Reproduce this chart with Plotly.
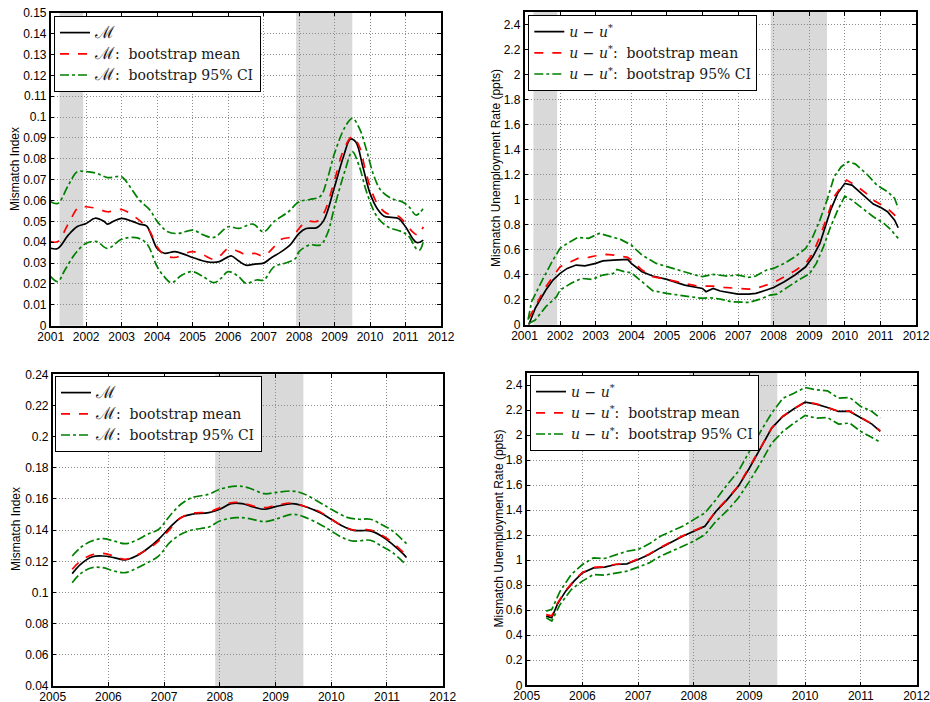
import plotly.graph_objects as go

# ---------------- DATA ----------------
recession_start = [2001.25, 2007.917]
recession_end = [2001.917, 2009.5]

# Panel 1 : Mismatch index (2001-2011)
p1_m_x = [2001.0,2001.2,2001.5,2001.75,2002.0,2002.25,2002.5,2002.6,2002.8,2003.0,2003.3,2003.5,2003.7,2003.85,2004.0,2004.2,2004.5,2004.75,2005.0,2005.3,2005.5,2005.75,2006.0,2006.1,2006.3,2006.5,2006.75,2007.0,2007.2,2007.5,2007.75,2008.0,2008.2,2008.5,2008.7,2009.0,2009.25,2009.45,2009.6,2009.8,2010.0,2010.2,2010.4,2010.6,2010.8,2011.0,2011.2,2011.3,2011.4,2011.5]
p1_m_y = [0.0371,0.037,0.0435,0.0475,0.049,0.0515,0.050,0.0487,0.0503,0.0514,0.050,0.0487,0.0478,0.0427,0.037,0.0347,0.0355,0.0343,0.0327,0.031,0.0304,0.0307,0.033,0.0334,0.031,0.029,0.0295,0.030,0.0323,0.0355,0.0387,0.0443,0.0466,0.047,0.0506,0.0666,0.081,0.0895,0.088,0.076,0.0634,0.0562,0.0525,0.0519,0.0514,0.0474,0.0418,0.040,0.040,0.041]
p1_mean_x = [2001.0,2001.2,2001.5,2001.8,2002.0,2002.3,2002.6,2003.0,2003.3,2003.6,2003.8,2004.0,2004.2,2004.5,2004.8,2005.0,2005.3,2005.6,2005.8,2006.0,2006.3,2006.5,2006.75,2007.0,2007.3,2007.5,2007.8,2008.0,2008.2,2008.5,2008.7,2009.0,2009.25,2009.5,2009.7,2009.85,2010.0,2010.2,2010.4,2010.6,2010.8,2011.0,2011.2,2011.35,2011.5]
p1_mean_y = [0.0403,0.0403,0.049,0.057,0.057,0.0562,0.0546,0.0557,0.053,0.049,0.045,0.0379,0.0339,0.0327,0.0347,0.0355,0.0339,0.0318,0.0339,0.037,0.0355,0.034,0.0347,0.0334,0.0379,0.0414,0.0427,0.0466,0.050,0.050,0.054,0.0698,0.084,0.0906,0.0858,0.076,0.0666,0.0586,0.0546,0.053,0.0525,0.049,0.045,0.0435,0.0474]
p1_hi_x = [2001.0,2001.2,2001.5,2001.75,2002.0,2002.3,2002.6,2003.0,2003.2,2003.5,2003.8,2004.0,2004.3,2004.6,2005.0,2005.3,2005.6,2006.0,2006.3,2006.7,2007.0,2007.3,2007.7,2008.0,2008.3,2008.6,2008.8,2009.0,2009.3,2009.5,2009.7,2009.9,2010.1,2010.3,2010.6,2010.9,2011.1,2011.3,2011.5]
p1_hi_y = [0.0594,0.0586,0.0674,0.0738,0.0738,0.073,0.071,0.0714,0.0674,0.0602,0.0554,0.050,0.045,0.0442,0.0458,0.0435,0.0423,0.0474,0.0466,0.0487,0.045,0.050,0.0546,0.0594,0.0605,0.062,0.0706,0.0826,0.0954,0.0994,0.0946,0.0842,0.0722,0.065,0.061,0.0594,0.057,0.053,0.0562]
p1_lo_x = [2001.0,2001.2,2001.4,2001.7,2002.0,2002.3,2002.6,2003.0,2003.4,2003.7,2004.0,2004.2,2004.4,2004.7,2005.0,2005.3,2005.6,2005.8,2006.0,2006.3,2006.5,2006.8,2007.0,2007.3,2007.6,2007.9,2008.0,2008.3,2008.6,2008.8,2009.0,2009.3,2009.5,2009.7,2009.9,2010.2,2010.5,2010.9,2011.1,2011.3,2011.4,2011.5]
p1_lo_y = [0.0235,0.0211,0.0267,0.0347,0.0395,0.0403,0.037,0.0414,0.0422,0.0395,0.0283,0.0235,0.0206,0.0243,0.0259,0.0235,0.0206,0.0227,0.0259,0.0235,0.0203,0.0219,0.0219,0.0283,0.0299,0.0323,0.0355,0.0387,0.0387,0.0442,0.057,0.0746,0.0834,0.0762,0.0642,0.0522,0.0474,0.045,0.0427,0.037,0.0363,0.0403]

# Panel 2 : mismatch unemployment (2001-2011)
p2_m_x = [2001.12,2001.3,2001.6,2001.8,2002.0,2002.2,2002.45,2002.7,2003.0,2003.2,2003.5,2003.7,2003.9,2004.0,2004.3,2004.6,2005.0,2005.5,2005.8,2006.0,2006.1,2006.3,2006.5,2006.8,2007.0,2007.3,2007.5,2007.8,2008.0,2008.3,2008.6,2008.9,2009.1,2009.3,2009.5,2009.6,2009.8,2010.0,2010.2,2010.4,2010.6,2010.8,2011.0,2011.2,2011.4,2011.5]
p2_m_y = [0.0,0.13,0.277,0.357,0.41,0.45,0.477,0.47,0.49,0.51,0.517,0.517,0.522,0.49,0.424,0.389,0.362,0.317,0.298,0.29,0.264,0.29,0.269,0.256,0.245,0.245,0.25,0.277,0.298,0.344,0.397,0.463,0.543,0.65,0.836,0.916,1.05,1.13,1.116,1.063,1.01,0.964,0.938,0.903,0.836,0.775]
p2_mean_x = [2001.12,2001.3,2001.6,2001.8,2002.0,2002.3,2002.5,2002.8,2003.0,2003.3,2003.6,2003.9,2004.0,2004.3,2004.6,2005.0,2005.5,2005.8,2006.0,2006.3,2006.6,2007.0,2007.3,2007.5,2007.8,2008.0,2008.3,2008.6,2008.9,2009.1,2009.3,2009.5,2009.7,2009.9,2010.05,2010.3,2010.6,2010.8,2011.0,2011.2,2011.4,2011.5]
p2_mean_y = [0.05,0.144,0.304,0.384,0.463,0.503,0.53,0.538,0.551,0.562,0.554,0.538,0.517,0.437,0.384,0.362,0.33,0.312,0.309,0.309,0.298,0.29,0.285,0.29,0.317,0.336,0.384,0.432,0.49,0.57,0.703,0.863,1.023,1.103,1.156,1.116,1.05,0.996,0.964,0.93,0.876,0.823]
p2_hi_x = [2001.1,2001.2,2001.5,2001.8,2002.0,2002.2,2002.5,2002.8,2003.1,2003.4,2003.7,2004.0,2004.3,2004.7,2005.0,2005.4,2005.8,2006.0,2006.3,2006.7,2007.0,2007.3,2007.5,2007.8,2008.0,2008.3,2008.6,2008.9,2009.1,2009.3,2009.5,2009.7,2009.9,2010.1,2010.3,2010.6,2010.9,2011.2,2011.4,2011.5]
p2_hi_y = [0.04,0.184,0.357,0.517,0.61,0.65,0.698,0.69,0.73,0.709,0.682,0.637,0.557,0.49,0.463,0.432,0.397,0.384,0.402,0.389,0.397,0.378,0.389,0.437,0.45,0.49,0.543,0.61,0.703,0.836,0.996,1.183,1.263,1.303,1.284,1.209,1.116,1.063,1.01,0.93]
p2_lo_x = [2001.12,2001.3,2001.6,2001.9,2002.0,2002.3,2002.6,2002.9,2003.2,2003.5,2003.6,2003.8,2004.0,2004.3,2004.6,2005.0,2005.5,2006.0,2006.2,2006.5,2006.8,2007.0,2007.3,2007.6,2007.9,2008.1,2008.4,2008.7,2009.0,2009.2,2009.4,2009.6,2009.8,2010.0,2010.2,2010.5,2010.8,2011.1,2011.3,2011.5]
p2_lo_y = [0.01,0.037,0.144,0.224,0.277,0.33,0.37,0.362,0.397,0.41,0.442,0.424,0.416,0.344,0.272,0.25,0.229,0.21,0.216,0.205,0.184,0.184,0.178,0.202,0.237,0.245,0.304,0.357,0.405,0.49,0.623,0.783,0.916,1.028,0.996,0.93,0.863,0.81,0.757,0.69]

# Panel 3 : Mismatch index (2005-2011)
p3_m_x = [2005.35,2005.5,2005.7,2005.9,2006.1,2006.3,2006.5,2006.7,2006.9,2007.1,2007.3,2007.5,2007.8,2008.0,2008.2,2008.4,2008.6,2008.8,2009.0,2009.3,2009.5,2009.8,2010.0,2010.2,2010.4,2010.7,2010.9,2011.1,2011.3,2011.35]
p3_m_y = [0.1121,0.1181,0.1228,0.1234,0.1224,0.1209,0.1234,0.1281,0.1341,0.1416,0.148,0.1502,0.1512,0.1534,0.157,0.157,0.1549,0.1534,0.1551,0.157,0.1555,0.1512,0.147,0.1427,0.1399,0.1395,0.1363,0.1309,0.1245,0.1224]
p3_mean_x = p3_m_x
p3_mean_y = [0.1149,0.1202,0.1241,0.1251,0.1234,0.1213,0.1238,0.1277,0.133,0.1405,0.148,0.1508,0.1517,0.1544,0.1576,0.1574,0.1555,0.1544,0.1559,0.1574,0.1555,0.1517,0.147,0.1427,0.1401,0.1401,0.1369,0.132,0.1256,0.1241]
p3_hi_x = [2005.35,2005.5,2005.7,2005.9,2006.1,2006.3,2006.5,2006.7,2006.9,2007.1,2007.3,2007.5,2007.8,2008.0,2008.3,2008.5,2008.8,2009.0,2009.3,2009.5,2009.8,2010.0,2010.3,2010.5,2010.7,2010.9,2011.1,2011.35]
p3_hi_y = [0.1234,0.1288,0.133,0.1345,0.133,0.1313,0.1335,0.1373,0.1405,0.1491,0.1566,0.1609,0.163,0.1662,0.1683,0.1673,0.1634,0.1641,0.1651,0.1634,0.1576,0.1534,0.148,0.147,0.147,0.1437,0.1395,0.1313]
p3_lo_x = [2005.35,2005.5,2005.7,2005.9,2006.1,2006.3,2006.5,2006.7,2006.9,2007.1,2007.3,2007.5,2007.8,2008.0,2008.3,2008.5,2008.8,2009.0,2009.3,2009.5,2009.8,2010.0,2010.2,2010.4,2010.7,2010.9,2011.1,2011.35]
p3_lo_y = [0.1063,0.1121,0.1159,0.1159,0.1138,0.1127,0.1155,0.1191,0.1234,0.132,0.1373,0.1401,0.142,0.1459,0.148,0.1476,0.1455,0.147,0.1502,0.1487,0.1437,0.1395,0.1352,0.133,0.1335,0.1298,0.1256,0.1176]

# Panel 4 : mismatch unemployment (2005-2011)
p4_m_x = [2005.35,2005.45,2005.55,2005.7,2005.85,2006.0,2006.2,2006.4,2006.6,2006.8,2007.0,2007.2,2007.4,2007.6,2007.8,2008.0,2008.2,2008.4,2008.6,2008.8,2009.0,2009.2,2009.4,2009.6,2009.8,2010.0,2010.2,2010.4,2010.6,2010.8,2011.0,2011.2,2011.35]
p4_m_y = [0.553,0.54,0.647,0.753,0.833,0.899,0.939,0.945,0.966,0.971,1.006,1.046,1.099,1.147,1.192,1.232,1.272,1.392,1.485,1.591,1.738,1.897,2.057,2.15,2.211,2.264,2.249,2.222,2.19,2.19,2.142,2.089,2.03]
p4_mean_x = p4_m_x
p4_mean_y = [0.565,0.555,0.655,0.758,0.838,0.903,0.943,0.948,0.968,0.975,1.01,1.05,1.102,1.15,1.195,1.236,1.276,1.396,1.49,1.595,1.742,1.9,2.06,2.152,2.213,2.266,2.251,2.224,2.192,2.192,2.145,2.092,2.034]
p4_hi_x = [2005.35,2005.45,2005.6,2005.8,2006.0,2006.2,2006.4,2006.6,2006.8,2007.0,2007.2,2007.4,2007.6,2007.8,2008.0,2008.2,2008.4,2008.6,2008.8,2009.0,2009.2,2009.4,2009.6,2009.8,2010.0,2010.2,2010.4,2010.6,2010.8,2011.0,2011.2,2011.35]
p4_hi_y = [0.593,0.607,0.753,0.886,0.966,1.019,1.014,1.046,1.072,1.086,1.131,1.192,1.232,1.272,1.325,1.378,1.485,1.605,1.711,1.871,2.03,2.177,2.296,2.336,2.382,2.363,2.355,2.296,2.302,2.23,2.19,2.137]
p4_lo_x = p4_hi_x
p4_lo_y = [0.54,0.514,0.647,0.766,0.833,0.886,0.881,0.899,0.913,0.945,0.979,1.032,1.072,1.112,1.152,1.205,1.312,1.397,1.498,1.631,1.778,1.937,2.03,2.097,2.158,2.137,2.142,2.089,2.097,2.03,1.983,1.945]

# tick labels
years_top = list(range(2001, 2013))
years_bottom = list(range(2005, 2013))
p1_yticks = [i / 100 for i in range(0, 16)]
p1_ylabels = ["0", "0.01", "0.02", "0.03", "0.04", "0.05", "0.06", "0.07", "0.08", "0.09", "0.1", "0.11", "0.12", "0.13", "0.14", "0.15"]
u_yticks = [i / 10 for i in range(0, 25, 2)]
u_ylabels = ["0", "0.2", "0.4", "0.6", "0.8", "1", "1.2", "1.4", "1.6", "1.8", "2", "2.2", "2.4"]
p3_yticks = [i / 100 for i in range(4, 25, 2)]
p3_ylabels = ["0.04", "0.06", "0.08", "0.1", "0.12", "0.14", "0.16", "0.18", "0.2", "0.22", "0.24"]

M = '<span style="font-size:17px">ℳ</span>'
U = "<i>u</i> − <i>u</i><sup>*</sup>"
p1_names = [M, M + ":  bootstrap mean", M + ":  bootstrap 95% CI"]
p2_names = [U, U + ":  bootstrap mean", U + ":  bootstrap 95% CI"]
ytitle_m = "Mismatch Index"
ytitle_u = "Mismatch Unemployment Rate (ppts)"

# ---------------- FIGURE ----------------
W, H = 930, 702
fig = go.Figure()

BLACK = "#000000"
RED = "#ff0000"
GREEN = "#008000"
LW = 1.7


def add_panel(idx, series, names, shape):
    ax = "" if idx == 1 else str(idx)
    leg = "legend" if idx == 1 else "legend" + str(idx)
    (mx, my), (ex, ey), (hx, hy), (lx, ly) = series
    common = dict(xaxis="x" + ax, yaxis="y" + ax, mode="lines", legend=leg, hoverinfo="skip")
    fig.add_trace(go.Scatter(x=mx, y=my, name=names[0],
                             line=dict(color=BLACK, width=LW, shape=shape), **common))
    fig.add_trace(go.Scatter(x=ex, y=ey, name=names[1],
                             line=dict(color=RED, width=LW, dash="dash", shape=shape), **common))
    fig.add_trace(go.Scatter(x=hx, y=hy, name=names[2],
                             line=dict(color=GREEN, width=LW, dash="dashdot", shape=shape), **common))
    fig.add_trace(go.Scatter(x=lx, y=ly, name=names[2], showlegend=False,
                             line=dict(color=GREEN, width=LW, dash="dashdot", shape=shape), **common))
    for s, e in zip(recession_start, recession_end):
        fig.add_shape(type="rect", xref="x" + ax, yref="y" + ax + " domain",
                      x0=s, x1=e, y0=0, y1=1, fillcolor="#d9d9d9",
                      line=dict(width=0), layer="below")


add_panel(1, [(p1_m_x, p1_m_y), (p1_mean_x, p1_mean_y), (p1_hi_x, p1_hi_y), (p1_lo_x, p1_lo_y)], p1_names, "spline")
add_panel(2, [(p2_m_x, p2_m_y), (p2_mean_x, p2_mean_y), (p2_hi_x, p2_hi_y), (p2_lo_x, p2_lo_y)], p2_names, "linear")
add_panel(3, [(p3_m_x, p3_m_y), (p3_mean_x, p3_mean_y), (p3_hi_x, p3_hi_y), (p3_lo_x, p3_lo_y)], p1_names, "spline")
add_panel(4, [(p4_m_x, p4_m_y), (p4_mean_x, p4_mean_y), (p4_hi_x, p4_hi_y), (p4_lo_x, p4_lo_y)], p2_names, "linear")

TICKFONT = dict(family="Liberation Sans, Arial, sans-serif", size=12, color="black")
AXCOMMON = dict(showline=True, linecolor="black", linewidth=1.5, mirror="ticks",
                ticks="inside", ticklen=4, tickcolor="black", tickwidth=1,
                showgrid=True, gridcolor="#8c8c8c", griddash="1px,2px", gridwidth=1,
                zeroline=False, tickfont=TICKFONT, fixedrange=True, automargin=False,
                ticklabeloverflow="allow")


def xaxis(left, right, rng, vals, anchor):
    return dict(domain=[left / W, right / W], range=rng, tickvals=vals,
                ticktext=[str(v) for v in vals], anchor=anchor,
                ticklabelstandoff=-1, **AXCOMMON)


def yaxis(top, bottom, rng, vals, labels, anchor):
    return dict(domain=[1 - bottom / H, 1 - top / H], range=rng, tickvals=vals,
                ticktext=labels, anchor=anchor, **AXCOMMON)


LEGFONT = dict(family="DejaVu Serif", size=14, color="#1a1a1a")


def legend(x, y):
    return dict(x=x / W, y=1 - y / H, xanchor="left", yanchor="top",
                bgcolor="white", bordercolor="black", borderwidth=1,
                font=LEGFONT, itemwidth=30, tracegroupgap=0)


fig.update_layout(
    width=W, height=H, margin=dict(l=0, r=0, t=0, b=0, autoexpand=False),
    font=dict(family="DejaVu Serif"),
    paper_bgcolor="white", plot_bgcolor="white", showlegend=True,
    xaxis=xaxis(50.7, 441, [2001, 2012], years_top, "y"),
    yaxis=yaxis(12.7, 325.7, [0, 0.15], p1_yticks, p1_ylabels, "x"),
    xaxis2=xaxis(524.5, 916, [2001, 2012], years_top, "y2"),
    yaxis2=yaxis(12, 324.7, [0, 2.5], u_yticks, u_ylabels, "x2"),
    xaxis3=xaxis(52.7, 442.7, [2005, 2012], years_bottom, "y3"),
    yaxis3=yaxis(374.3, 686, [0.04, 0.24], p3_yticks, p3_ylabels, "x3"),
    xaxis4=xaxis(526.7, 916.5, [2005, 2012], years_bottom, "y4"),
    yaxis4=yaxis(372.7, 685.3, [0, 2.5], u_yticks, u_ylabels, "x4"),
    legend=legend(54, 16),
    legend2=legend(528.3, 15),
    legend3=legend(55, 376),
    legend4=legend(530, 375),
)

TITLEFONT = dict(family="Liberation Sans, Arial, sans-serif", size=12, color="black")
for x, y, t in [(15, 169, ytitle_m), (496.7, 168.3, ytitle_u), (16.7, 529.3, ytitle_m), (498, 528.5, ytitle_u)]:
    fig.add_annotation(x=x / W, y=1 - y / H, xref="paper", yref="paper", text=t,
                       textangle=-90, showarrow=False, font=TITLEFONT,
                       xanchor="center", yanchor="middle")

fig.write_html("out.html", config={"displayModeBar": False},
               post_script="document.body.style.margin='0';document.body.style.overflow='hidden';")
